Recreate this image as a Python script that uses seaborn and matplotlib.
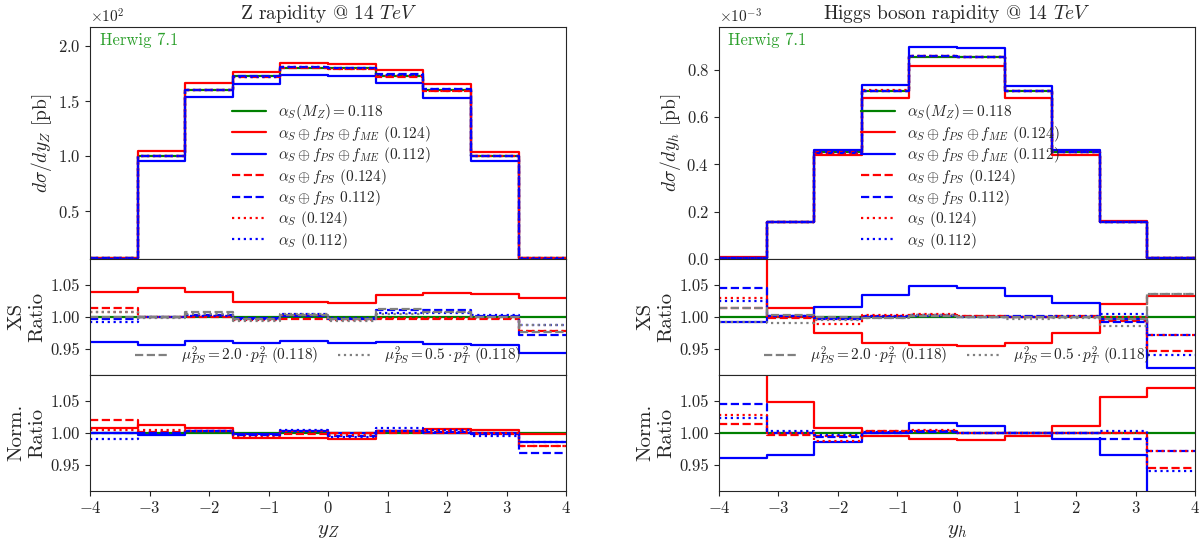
import numpy as np
import pandas as pd
import matplotlib
matplotlib.use('Agg')
import matplotlib.pyplot as plt
import seaborn as sns
from matplotlib.ticker import MultipleLocator, FixedLocator

sns.set_style("ticks")
plt.rcParams['font.family'] = ['cmr10', 'DejaVu Serif']
plt.rcParams['mathtext.fontset'] = 'cm'
plt.rcParams['axes.formatter.use_mathtext'] = True
plt.rcParams['axes.unicode_minus'] = True

# ---------------- data ----------------
edges = [-4.0, -3.2, -2.4, -1.6, -0.8, 0.0, 0.8, 1.6, 2.4, 3.2, 4.0]

# Z rapidity, central prediction (pb)
z_central = [7, 100, 159.5, 172.5, 180, 180, 172.5, 159.5, 100, 7]
# XS ratios to central
z_xs_red = [1.039, 1.044, 1.039, 1.023, 1.023, 1.021, 1.034, 1.0375, 1.035, 1.029]
z_xs_blue = [0.961, 0.956, 0.962, 0.959, 0.962, 0.959, 0.961, 0.958, 0.957, 0.944]
z_xs_red_dash = [1.014, 0.999, 1.000, 0.996, 0.997, 0.996, 0.997, 0.996, 0.996, 0.978]
z_xs_blue_dash = [0.997, 0.999, 1.003, 0.998, 1.002, 0.997, 1.011, 1.010, 1.001, 0.971]
z_xs_red_dot = [1.008, 0.999, 1.001, 0.995, 1.003, 0.995, 0.998, 0.998, 0.998, 0.978]
z_xs_blue_dot = [0.992, 1.000, 1.002, 0.997, 1.004, 0.998, 1.006, 1.006, 1.003, 0.987]
z_xs_gray_dash = [1.000, 1.000, 1.007, 0.997, 1.003, 0.996, 1.012, 1.008, 1.000, 0.976]
z_xs_gray_dot = [1.008, 0.998, 1.004, 0.994, 1.005, 0.993, 1.004, 1.008, 0.999, 0.988]
# normalised ratios
z_nr_red = [1.007, 1.012, 1.007, 0.992, 0.992, 0.990, 1.002, 1.006, 1.004, 0.998]
z_nr_blue = [1.000, 0.997, 1.003, 0.998, 1.003, 1.000, 1.003, 1.000, 0.999, 0.985]
z_nr_red_dash = [1.020, 1.001, 1.002, 0.996, 0.998, 1.000, 1.000, 0.999, 0.998, 0.980]
z_nr_blue_dash = [0.999, 0.999, 1.003, 0.997, 1.003, 0.995, 1.003, 1.001, 0.998, 0.969]
z_nr_red_dot = [1.005, 1.004, 1.003, 0.995, 1.002, 0.996, 1.002, 1.003, 1.000, 0.980]
z_nr_blue_dot = [0.990, 0.999, 1.002, 0.996, 1.004, 0.994, 1.007, 1.004, 0.995, 0.985]

# Higgs rapidity, central prediction (pb)
h_central = [0.005e-3, 0.155e-3, 0.451e-3, 0.710e-3, 0.854e-3,
             0.854e-3, 0.710e-3, 0.451e-3, 0.155e-3, 0.005e-3]
h_xs_red = [1.200, 1.013, 0.975, 0.959, 0.956, 0.954, 0.960, 0.975, 1.020, 1.033]
h_xs_blue = [0.992, 1.001, 1.016, 1.034, 1.048, 1.044, 1.032, 1.021, 0.997, 0.921]
h_xs_red_dash = [1.013, 0.998, 0.997, 1.001, 1.003, 1.001, 1.000, 1.002, 0.993, 0.947]
h_xs_blue_dash = [1.045, 1.001, 0.996, 1.000, 1.002, 1.000, 1.001, 1.000, 0.992, 0.971]
h_xs_red_dot = [1.029, 1.000, 0.989, 1.003, 1.005, 1.001, 1.000, 1.000, 1.000, 0.972]
h_xs_blue_dot = [1.024, 1.002, 0.998, 1.001, 1.003, 1.000, 1.000, 1.001, 1.004, 0.940]
h_xs_gray_dash = [1.014, 1.003, 1.000, 0.998, 1.002, 1.000, 0.999, 1.000, 0.997, 1.036]
h_xs_gray_dot = [0.992, 0.991, 0.995, 0.998, 1.003, 0.999, 0.997, 0.998, 0.986, 1.035]
h_nr_red = [1.150, 1.048, 1.008, 0.995, 0.990, 0.988, 0.995, 1.011, 1.055, 1.069]
h_nr_blue = [0.961, 0.966, 0.985, 0.999, 1.015, 1.011, 1.000, 0.990, 0.966, 0.850]
h_nr_red_dash = [1.013, 0.996, 0.995, 1.002, 1.002, 0.999, 1.000, 1.000, 1.000, 0.946]
h_nr_blue_dash = [1.045, 1.000, 0.994, 1.000, 1.001, 0.999, 1.000, 1.000, 0.991, 0.971]
h_nr_red_dot = [1.027, 1.000, 0.987, 1.002, 1.004, 1.000, 1.000, 1.000, 1.000, 0.971]
h_nr_blue_dot = [1.023, 1.003, 0.997, 1.001, 1.003, 1.000, 1.000, 1.000, 1.003, 0.940]

labels = [r'$\alpha_S(M_Z) = 0.118$',
          r'$\alpha_S \oplus f_{PS} \oplus f_{ME}$ (0.124)',
          r'$\alpha_S \oplus f_{PS} \oplus f_{ME}$ (0.112)',
          r'$\alpha_S \oplus f_{PS}$ (0.124)',
          r'$\alpha_S \oplus f_{PS}$ 0.112)',
          r'$\alpha_S$ (0.124)',
          r'$\alpha_S$ (0.112)']
gray_labels = [r'$\mu_{PS}^2 = 2.0 \cdot p_T^2$ (0.118)',
               r'$\mu_{PS}^2 = 0.5 \cdot p_T^2$ (0.118)']
colors = ['green', 'red', 'blue', 'red', 'blue', 'red', 'blue']
styles = ['-', '-', '-', '--', '--', ':', ':']


def step(ax, vals, color, ls, label=None):
    y = list(vals) + [vals[-1]]
    sns.lineplot(x=edges, y=y, ax=ax, drawstyle='steps-post', color=color,
                 linestyle=ls, linewidth=1.6, label=label, legend=False)
    return ax.get_lines()[-1]


fig = plt.figure(figsize=(11.99, 5.4), dpi=100)
gs = fig.add_gridspec(3, 2, height_ratios=[2, 1, 1], hspace=0, wspace=0.321,
                      left=0.0751, right=0.9967, top=0.95, bottom=0.0913)

panels = [
    dict(col=0, central=z_central,
         xs=[z_xs_red, z_xs_blue, z_xs_red_dash, z_xs_blue_dash, z_xs_red_dot, z_xs_blue_dot],
         gray=[z_xs_gray_dash, z_xs_gray_dot],
         nr=[z_nr_red, z_nr_blue, z_nr_red_dash, z_nr_blue_dash, z_nr_red_dot, z_nr_blue_dot],
         title=r'Z rapidity @ 14 $TeV$', ylabel=r'$d\sigma/dy_Z$ [pb]', xlabel=r'$y_Z$',
         ylim=(6.5, 217), ystep=50, order=2),
    dict(col=1, central=h_central,
         xs=[h_xs_red, h_xs_blue, h_xs_red_dash, h_xs_blue_dash, h_xs_red_dot, h_xs_blue_dot],
         gray=[h_xs_gray_dash, h_xs_gray_dot],
         nr=[h_nr_red, h_nr_blue, h_nr_red_dash, h_nr_blue_dash, h_nr_red_dot, h_nr_blue_dot],
         title=r'Higgs boson rapidity @ 14 $TeV$', ylabel=r'$d\sigma/dy_h$ [pb]', xlabel=r'$y_h$',
         ylim=(0, 0.98e-3), ystep=0.2e-3, order=-3),
]

for p in panels:
    ax0 = fig.add_subplot(gs[0, p['col']])
    ax1 = fig.add_subplot(gs[1, p['col']], sharex=ax0)
    ax2 = fig.add_subplot(gs[2, p['col']], sharex=ax0)
    central = np.array(p['central'])

    # main distribution
    handles = [step(ax0, central, colors[0], styles[0], labels[0])]
    for r, c, ls, lab in zip(p['xs'], colors[1:], styles[1:], labels[1:]):
        handles.append(step(ax0, central * np.array(r), c, ls, lab))
    ax0.legend(handles=handles, labels=labels, loc='upper left',
               bbox_to_anchor=(0.27, 0.735), frameon=False, fontsize=11,
               handlelength=2.2, labelspacing=0.1)
    ax0.text(0.02, 0.975, 'Herwig 7.1', color='#2ca02c', fontsize=12,
             transform=ax0.transAxes, ha='left', va='top')
    ax0.set_title(p['title'], fontsize=14)
    ax0.set_ylabel(p['ylabel'], fontsize=14)
    ax0.set_ylim(*p['ylim'])
    ax0.yaxis.set_major_locator(MultipleLocator(p['ystep']))
    ax0.ticklabel_format(axis='y', style='sci', scilimits=(p['order'], p['order']))
    ax0.yaxis.get_offset_text().set_fontsize(11)
    ax0.yaxis.set_label_coords(-0.076, 0.5)

    # XS ratio
    step(ax1, [1.0] * 10, colors[0], '-')
    for r, c, ls in zip(p['xs'], colors[1:], styles[1:]):
        step(ax1, r, c, ls)
    gh = [step(ax1, p['gray'][0], 'gray', '--'), step(ax1, p['gray'][1], 'gray', ':')]
    ax1.legend(handles=gh, labels=gray_labels, loc='lower center',
               bbox_to_anchor=(0.5, -0.05), ncol=2, frameon=False, fontsize=11,
               handlelength=2.2, columnspacing=1.3)
    ax1.set_ylabel('XS\nRatio', fontsize=15)

    # normalised ratio
    step(ax2, [1.0] * 10, colors[0], '-')
    for r, c, ls in zip(p['nr'], colors[1:], styles[1:]):
        step(ax2, r, c, ls)
    ax2.set_ylabel('Norm.\nRatio', fontsize=15)
    ax2.set_xlabel(p['xlabel'], fontsize=15)

    for ax in (ax1, ax2):
        ax.set_ylim(0.91, 1.09)
        ax.yaxis.set_major_locator(FixedLocator([0.95, 1.0, 1.05]))
        ax.yaxis.set_major_formatter(plt.FormatStrFormatter('%.2f'))
        ax.yaxis.set_label_coords(-0.092, 0.5)
    for ax in (ax0, ax1):
        ax.tick_params(axis='x', bottom=False, labelbottom=False)
    ax0.set_xlim(-4, 4)
    ax2.xaxis.set_major_locator(MultipleLocator(1))
    for ax in (ax0, ax1, ax2):
        ax.tick_params(labelsize=12)

plt.savefig('out.png', dpi=100)
